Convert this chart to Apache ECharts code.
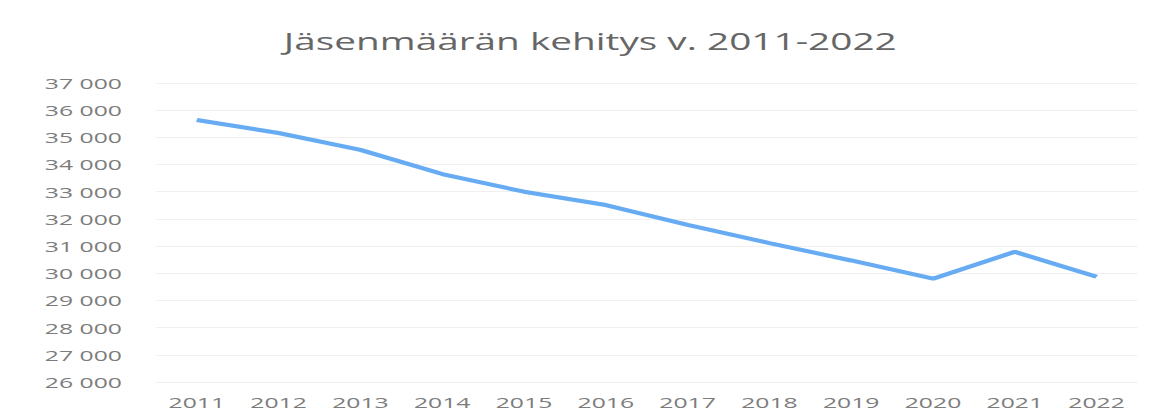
<!DOCTYPE html>
<head>
  <meta charset="utf-8">
  <script src="https://cdn.jsdelivr.net/npm/echarts@6/dist/echarts.min.js"></script>
  <style>
    html,body{margin:0;padding:0;background:#fff;overflow:hidden;}
    /* the reference picture is stretched sideways, so the chart is drawn narrow and widened */
    #chart{
      width:707px;
      height:416px;
      transform:scaleX(1.65);
      transform-origin:left top;
    }
  </style>
</head>
<body>
  <div id="chart"></div>
  <script>
    var years = ['2011','2012','2013','2014','2015','2016','2017','2018','2019','2020','2021','2022'];
    var members = [35640, 35160, 34540, 33650, 33000, 32510, 31780, 31110, 30470, 29800, 30790, 29870];
    var yMin = 26000, yMax = 37000, yStep = 1000;

    var myChart = echarts.init(document.getElementById('chart'), null, {renderer: 'svg'});
    var option = {
      backgroundColor: '#fff',
      title: {
        text: 'Jäsenmäärän kehitys v. 2011-2022',
        left: 172,
        top: 29,
        padding: 0,
        textStyle: {
          fontFamily: 'Open Sans',
          fontWeight: 'normal',
          fontSize: 23.5,
          color: '#666666'
        }
      },
      grid: {left: 94.5, right: 17.6, top: 83, bottom: 34},
      xAxis: {
        type: 'category',
        data: years,
        boundaryGap: true,
        axisLine: {show: false},
        axisTick: {show: false},
        axisLabel: {
          margin: 13,
          fontFamily: 'Open Sans',
          fontSize: 15,
          color: '#7c7c7c'
        }
      },
      yAxis: {
        type: 'value',
        min: yMin,
        max: yMax,
        interval: yStep,
        axisLine: {show: false},
        axisTick: {show: false},
        splitLine: {lineStyle: {color: '#f0f0f0', width: 1}},
        axisLabel: {
          margin: 20.6,
          fontFamily: 'Open Sans',
          fontSize: 15,
          color: '#7c7c7c',
          formatter: function (v) {
            return String(v).replace(/\B(?=(\d{3})+(?!\d))/g, ' ');
          }
        }
      },
      series: [{
        type: 'line',
        data: members,
        showSymbol: false,
        symbol: 'none',
        lineStyle: {color: '#67acf3', width: 4},
        itemStyle: {color: '#67acf3'}
      }]
    };
    myChart.setOption(option);
  </script>
</body>
